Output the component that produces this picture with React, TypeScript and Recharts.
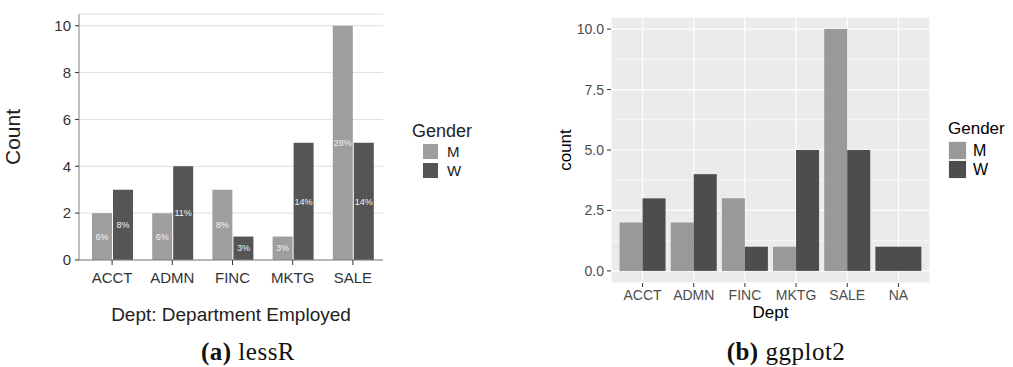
import React from "react";
import {
  Bar,
  BarChart,
  CartesianGrid,
  Label,
  LabelList,
  Legend,
  XAxis,
  YAxis,
} from "recharts";

// lessR panel: employees per department, split by gender
const depts = ["ACCT", "ADMN", "FINC", "MKTG", "SALE"];
const menCount = [2, 2, 3, 1, 10];
const womenCount = [3, 4, 1, 5, 5];
const lessTicks = [0, 2, 4, 6, 8, 10];

// ggplot2 panel: same counts plus the missing-department row
const ggDepts = ["ACCT", "ADMN", "FINC", "MKTG", "SALE", "NA"];
const ggMen = [2, 2, 3, 1, 10, null];
const ggWomen = [3, 4, 1, 5, 5, 1];
const ggTicks = [0, 2.5, 5, 7.5, 10];
const ggMinor = [1.25, 3.75, 6.25, 8.75];

const genders = ["M", "W"];

const lessRows = depts.map((d, i) => ({ dept: d, M: menCount[i], W: womenCount[i] }));
const ggRows = ggDepts.map((d, i) => ({ dept: d, M: ggMen[i], W: ggWomen[i] }));
const total = menCount.concat(womenCount).reduce((a, b) => a + b, 0);
const pct = (v: any) => `${Math.round((Number(v) / total) * 100)}%`;

const SANS = "'Liberation Sans', Arial, Helvetica, sans-serif";

function GenderKey({
  colors,
  box,
  gap,
  titleSize,
  itemSize,
  indent,
  textX,
  color,
  outline,
}: {
  colors: string[];
  box: number;
  gap: number;
  titleSize: number;
  itemSize: number;
  indent: number;
  textX: number;
  color: string;
  outline?: string;
}) {
  return (
    <div style={{ fontFamily: SANS, color, position: "relative" }}>
      <div style={{ fontSize: titleSize, lineHeight: `${titleSize + 4}px`, whiteSpace: "nowrap" }}>Gender</div>
      {genders.map((g, i) => (
        <div
          key={g}
          style={{
            position: "absolute",
            left: indent,
            top: titleSize + 6 + i * (box + gap),
            height: box,
            display: "flex",
            alignItems: "center",
          }}
        >
          <span
            style={{
              width: box,
              height: box,
              background: colors[i],
              boxSizing: "border-box",
              border: outline ? `1px solid ${outline}` : "none",
              display: "inline-block",
            }}
          />
          <span style={{ fontSize: itemSize, marginLeft: textX, lineHeight: 1 }}>{g}</span>
        </div>
      ))}
    </div>
  );
}

// a bar with no partner in its group takes the whole dodge width
const DodgeShape = (props: any) => {
  const { x, y, width, height, fill, payload } = props;
  const alone = payload && payload.M == null;
  return (
    <rect
      x={alone ? x - width : x}
      y={y}
      width={alone ? width * 2 : width}
      height={height}
      fill={fill}
    />
  );
};

function LessRChart() {
  const tickFont = { fill: "#333", fontSize: 15, fontFamily: SANS };
  const colors = ["#9e9e9e", "#555555"];
  return (
    <BarChart
      width={500}
      height={367}
      data={lessRows}
      margin={{ top: 14, right: 117, bottom: 47, left: 0 }}
      barSize={20}
      barGap={1}
    >
      <CartesianGrid stroke="#dedede" vertical={false} />
      <XAxis
        dataKey="dept"
        padding={{ left: 3, right: 0 }}
        height={60}
        tick={tickFont}
        tickSize={5}
        tickMargin={7}
        axisLine={{ stroke: "#808080" }}
        tickLine={{ stroke: "#333" }}
      >
        <Label
          value="Dept: Department Employed"
          position="insideBottom"
          offset={-1}
          style={{ fill: "#222", fontSize: 19, fontFamily: SANS }}
        />
      </XAxis>
      <XAxis xAxisId="frame" dataKey="dept" orientation="top" height={0} tick={false} tickLine={false} axisLine={{ stroke: "#808080" }} />
      <YAxis
        width={79}
        domain={[0, 10.5]}
        ticks={lessTicks}
        tick={tickFont}
        tickSize={4}
        tickMargin={4}
        axisLine={{ stroke: "#808080" }}
        tickLine={{ stroke: "#333" }}
      >
        <Label
          value="Count"
          angle={-90}
          position="insideLeft"
          offset={17}
          dx={-4}
          style={{ fill: "#222", fontSize: 21, fontFamily: SANS, textAnchor: "middle" }}
        />
      </YAxis>
      <YAxis yAxisId="frame" orientation="right" width={0} domain={[0, 10.5]} tick={false} tickLine={false} axisLine={{ stroke: "#808080" }} />
      <Legend
        layout="horizontal"
        verticalAlign="middle"
        wrapperStyle={{ left: 412, top: 120, width: 90 }}
        content={() => (
          <GenderKey colors={colors} box={15} gap={4} titleSize={18} itemSize={15} indent={11} textX={9} color="#222" />
        )}
      />
      <Bar dataKey="M" fill={colors[0]} isAnimationActive={false}>
        <LabelList dataKey="M" position="center" formatter={pct} fill="#f2f2f2" fontSize={9} fontFamily={SANS} />
      </Bar>
      <Bar dataKey="W" fill={colors[1]} isAnimationActive={false}>
        <LabelList dataKey="W" position="center" formatter={pct} fill="#f2f2f2" fontSize={9} fontFamily={SANS} />
      </Bar>
    </BarChart>
  );
}

function GgplotChart() {
  const tickFont = { fill: "#4d4d4d", fontSize: 14, fontFamily: SANS };
  const colors = ["#999999", "#4d4d4d"];
  return (
    <BarChart
      width={513}
      height={367}
      data={ggRows}
      margin={{ top: 17, right: 83, bottom: 49, left: 0 }}
      barCategoryGap="5%"
      barGap={0}
    >
      <CartesianGrid fill="#ebebeb" fillOpacity={1} stroke="#ffffff" strokeWidth={1.2} />
      <CartesianGrid horizontalValues={ggMinor} vertical={false} stroke="#ffffff" strokeWidth={0.6} />
      <XAxis
        dataKey="dept"
        padding={{ left: 6, right: 6 }}
        height={35}
        tick={tickFont}
        tickSize={4}
        tickMargin={3}
        axisLine={false}
        tickLine={{ stroke: "#333" }}
      >
        <Label value="Dept" position="insideBottom" offset={0} style={{ fill: "#000", fontSize: 17, fontFamily: SANS }} />
      </XAxis>
      <YAxis
        width={111}
        domain={[-0.5, 10.5]}
        ticks={ggTicks}
        tickFormatter={(v: number) => v.toFixed(1)}
        tick={tickFont}
        tickSize={4}
        tickMargin={3}
        axisLine={false}
        tickLine={{ stroke: "#333" }}
      >
        <Label
          value="count"
          angle={-90}
          position="insideLeft"
          offset={65}
          style={{ fill: "#000", fontSize: 17, fontFamily: SANS, textAnchor: "middle" }}
        />
      </YAxis>
      <Legend
        layout="horizontal"
        verticalAlign="middle"
        wrapperStyle={{ left: 448, top: 118, width: 90 }}
        content={() => (
          <GenderKey colors={colors} box={19} gap={0} titleSize={17} itemSize={16} indent={0} textX={6} color="#000" outline="#f2f2f2" />
        )}
      />
      <Bar dataKey="M" fill={colors[0]} isAnimationActive={false} />
      <Bar dataKey="W" fill={colors[1]} shape={DodgeShape} isAnimationActive={false} />
    </BarChart>
  );
}

const captionStyle: React.CSSProperties = {
  position: "absolute",
  top: 339,
  width: 300,
  textAlign: "center",
  fontFamily: "'Liberation Serif', 'DejaVu Serif', serif",
  fontSize: 25,
  lineHeight: "25px",
  color: "#111",
  letterSpacing: 0.5,
};

export default function App() {
  return (
    <div style={{ position: "absolute", left: 0, top: 0, width: 1013, height: 367, overflow: "hidden", background: "#fff" }}>
      <div style={{ position: "absolute", left: 0, top: 0 }}>
        <LessRChart />
      </div>
      <div style={{ position: "absolute", left: 500, top: 0 }}>
        <GgplotChart />
      </div>
      <div style={{ ...captionStyle, left: 248 - 150 }}>
        <b>(a)</b> lessR
      </div>
      <div style={{ ...captionStyle, left: 786 - 150 }}>
        <b>(b)</b> ggplot2
      </div>
    </div>
  );
}
